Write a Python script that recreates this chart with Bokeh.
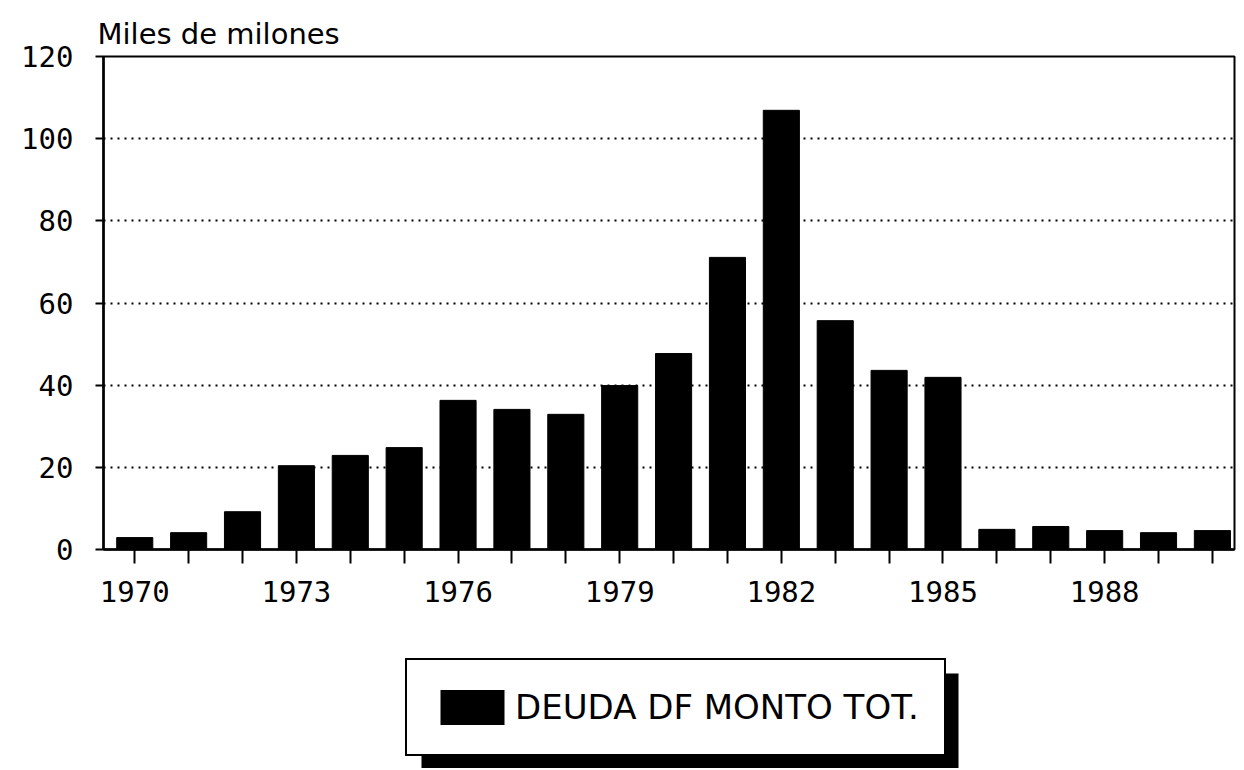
from bokeh.plotting import figure
from bokeh.layouts import column
from bokeh.models import (Range1d, FixedTicker, Legend, LegendItem, BoxAnnotation,
                          ColumnDataSource)
from bokeh.embed import file_html
from bokeh.resources import INLINE

years = [1970, 1971, 1972, 1973, 1974, 1975, 1976, 1977, 1978, 1979, 1980,
         1981, 1982, 1983, 1984, 1985, 1986, 1987, 1988, 1989, 1990]
deuda = [2.9, 4.1, 9.2, 20.4, 22.9, 24.8, 36.3, 34.1, 32.9, 39.9, 47.7,
         71.1, 106.9, 55.7, 43.6, 41.9, 4.9, 5.6, 4.6, 4.1, 4.6]
labeled_years = [1970, 1973, 1976, 1979, 1982, 1985, 1988]
y_ticks = [0, 20, 40, 60, 80, 100, 120]
series_name = "DEUDA DF MONTO TOT."
y_title = "Miles de milones"

FONT = "DejaVu Sans Mono"
W = 1236

p = figure(width=W, height=620, output_backend="svg", toolbar_location=None,
           x_range=Range1d(1969.42, 1990.41), y_range=Range1d(0, 120),
           min_border_left=103, min_border_right=2, min_border_top=56,
           min_border_bottom=71)
p.background_fill_color = "white"
p.border_fill_color = "white"
p.outline_line_color = "black"
p.outline_line_width = 2

p.title.text = y_title
p.title.text_font = "DejaVu Sans"
p.title.text_font_size = "29px"
p.title.text_font_style = "normal"
p.title.text_color = "black"
p.title.align = "left"
p.title.offset = -6
p.title.standoff = 12

src = ColumnDataSource(dict(x=years, top=deuda))
bars = p.vbar(x="x", top="top", width=0.67, source=src,
              fill_color="black", line_color="black")

# axes
p.xaxis.ticker = FixedTicker(ticks=years)
p.xaxis.major_label_overrides = {y: (str(y) if y in labeled_years else "") for y in years}
p.yaxis.ticker = FixedTicker(ticks=y_ticks)
for ax in (p.xaxis, p.yaxis):
    ax.axis_line_color = "black"
    ax.axis_line_width = 2.5
    ax.major_tick_line_color = "black"
    ax.major_tick_line_width = 2
    ax.major_tick_in = 0
    ax.minor_tick_line_color = None
    ax.major_label_text_font = FONT
    ax.major_label_text_font_size = "29px"
    ax.major_label_text_color = "black"
p.xaxis.major_tick_out = 14
p.xaxis.major_label_standoff = 17
p.yaxis.major_tick_out = 8
p.yaxis.major_label_standoff = 22

p.xgrid.grid_line_color = None
p.ygrid.ticker = FixedTicker(ticks=[20, 40, 60, 80, 100, 120])
p.ygrid.grid_line_color = "black"
p.ygrid.grid_line_width = 2
p.ygrid.grid_line_dash = "2 5"

# legend panel below the chart (its frame is aligned with the chart's frame)
H2 = 148
p2 = figure(width=W, height=H2, output_backend="svg", toolbar_location=None,
            x_range=Range1d(103, 1234), y_range=Range1d(0, H2),
            min_border_left=103, min_border_right=2, min_border_top=0,
            min_border_bottom=0, x_axis_type=None, y_axis_type=None)
p2.outline_line_color = None
p2.background_fill_color = "white"
p2.border_fill_color = "white"
p2.grid.grid_line_color = None

shadow = BoxAnnotation(left=421, right=958, top=95, bottom=0,
                       fill_color="black", fill_alpha=1.0, line_color=None)
p2.add_layout(shadow)

# legend key renderer (kept below the visible range, so only its key shows)
key = p2.vbar(x=[600], top=[-50], bottom=[-60], width=1,
              fill_color="black", line_color=None)
legend = Legend(items=[LegendItem(label=series_name, renderers=[key])],
                location=(302, 12), margin=0, padding=25, spacing=0,
                glyph_width=80, glyph_height=44, label_standoff=3,
                label_text_font="DejaVu Sans", label_text_font_size="34px",
                label_text_color="black",
                border_line_color="black", border_line_width=2,
                border_line_alpha=1.0,
                background_fill_color="white", background_fill_alpha=1.0)
p2.add_layout(legend)

open("out.html", "w").write(file_html(column(p, p2, spacing=0), INLINE))
